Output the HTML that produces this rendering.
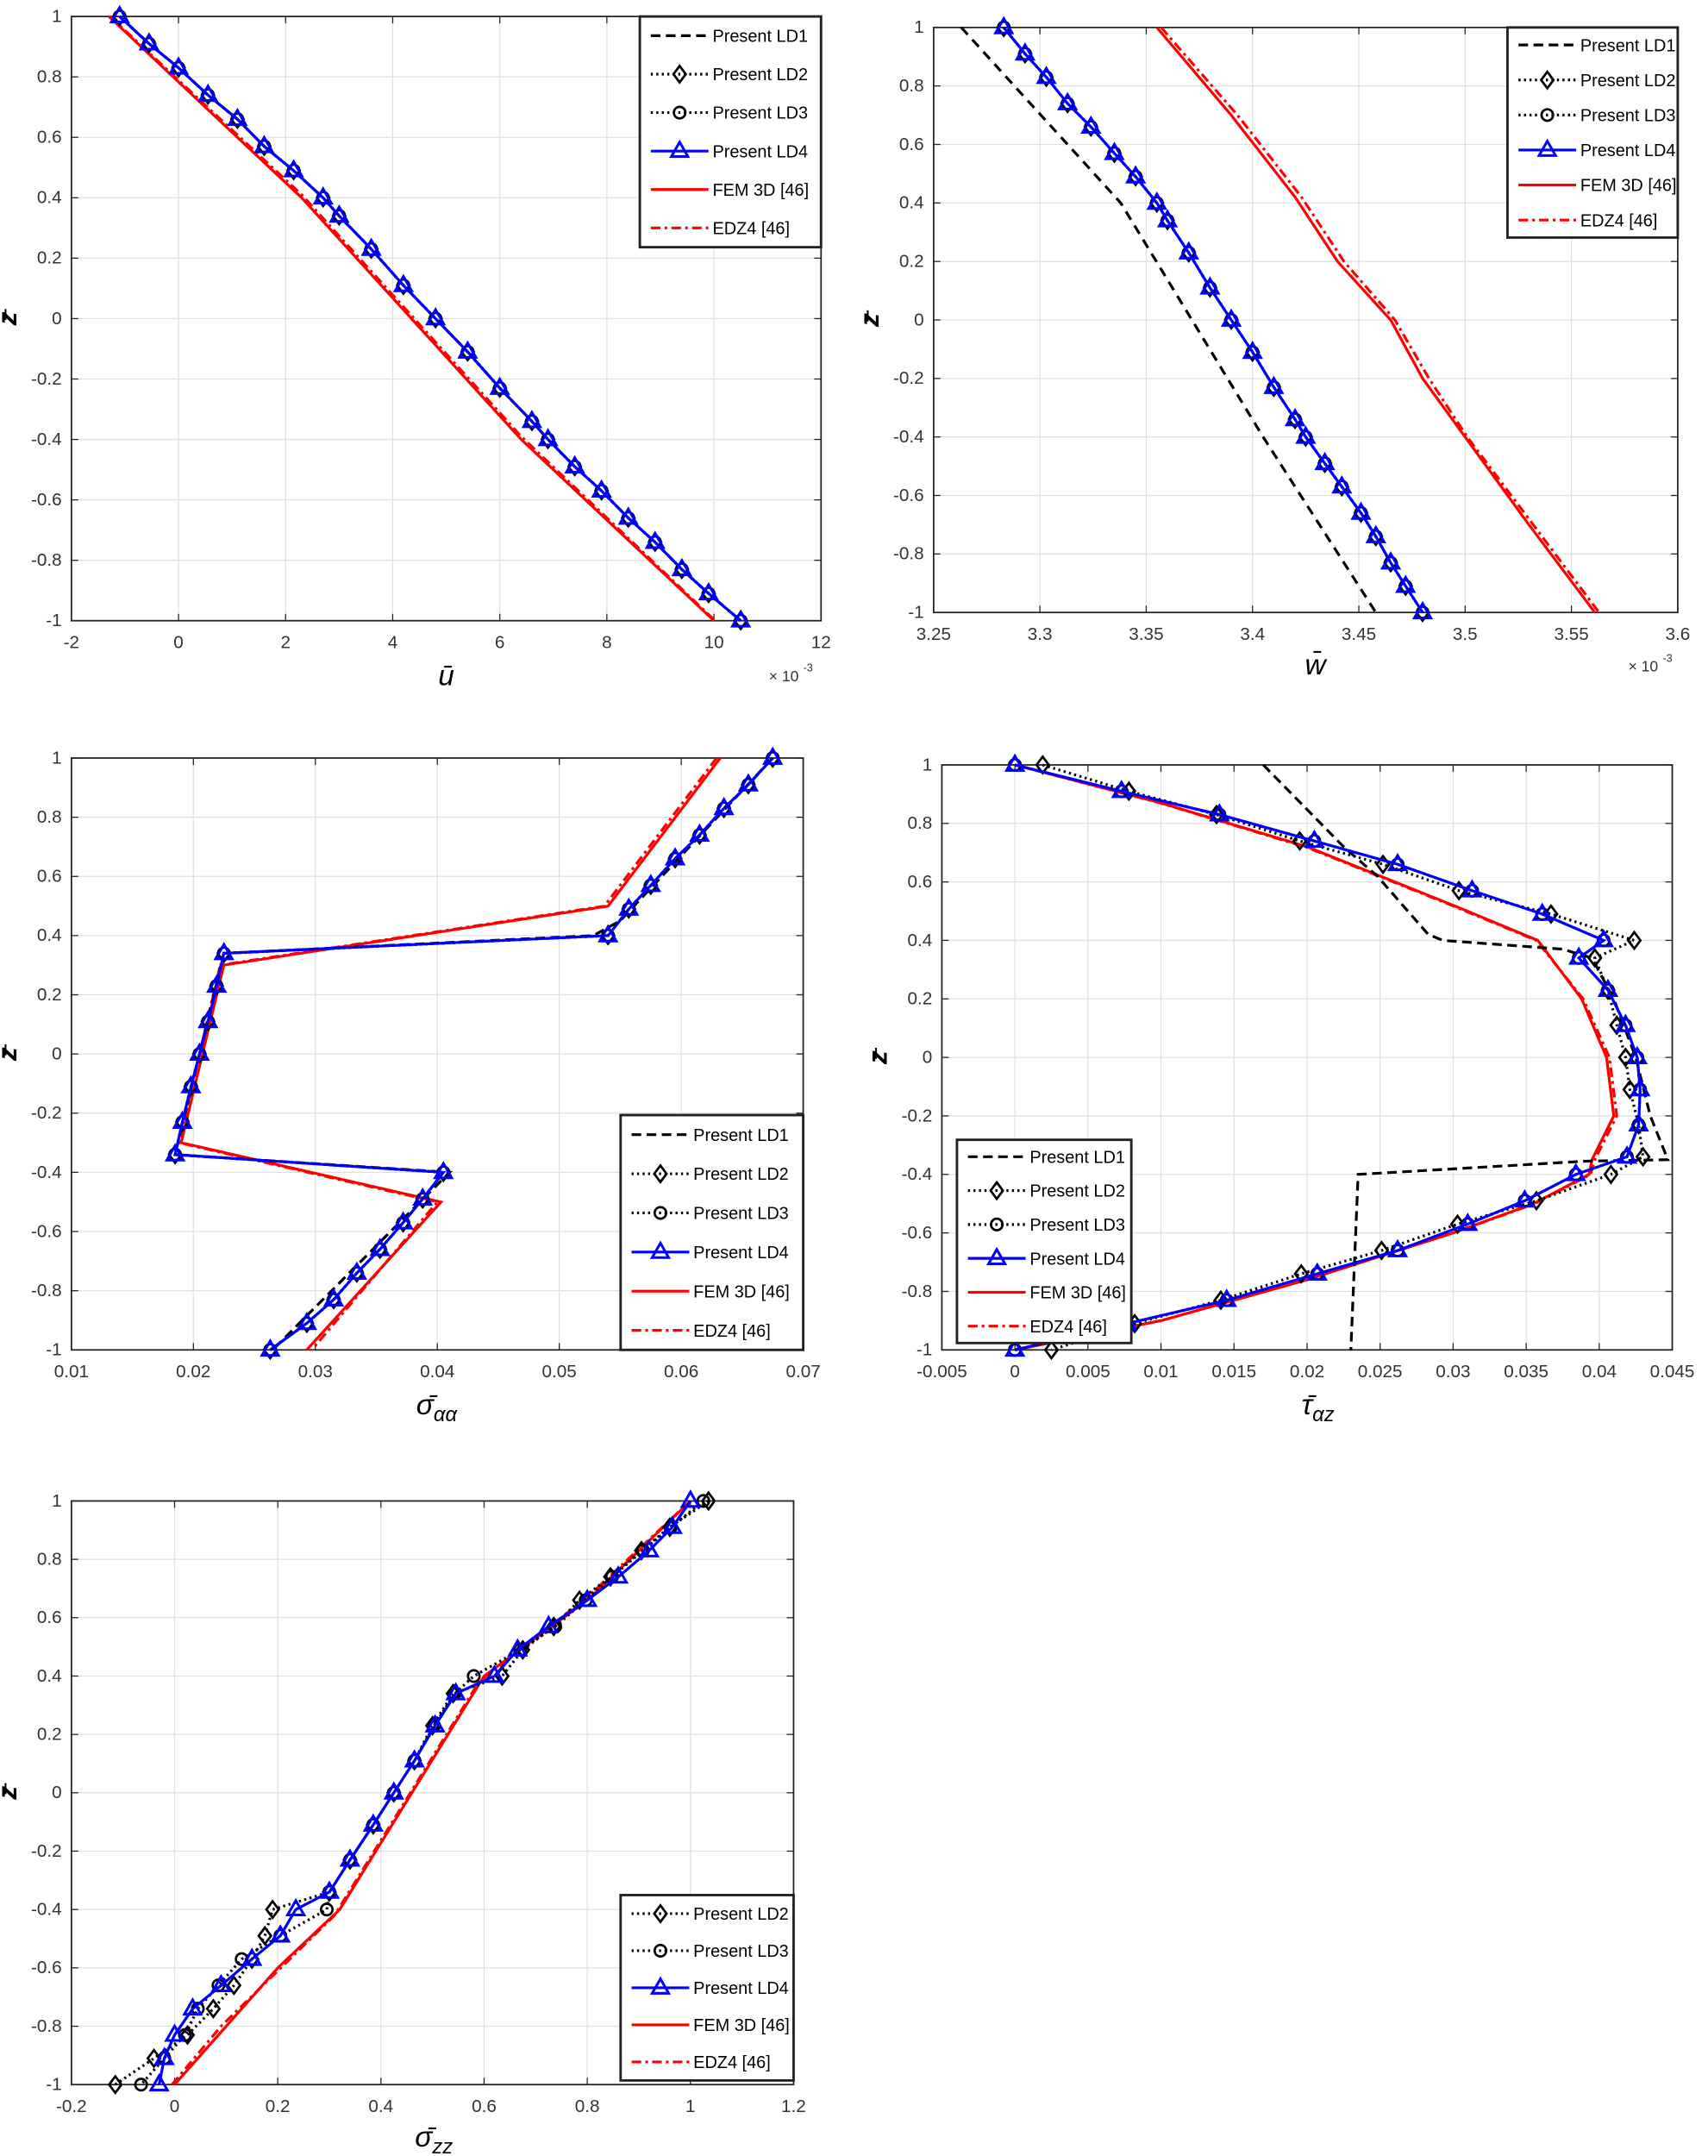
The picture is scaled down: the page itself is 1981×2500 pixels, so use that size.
<!DOCTYPE html>
<html><head><meta charset="utf-8"><style>
html,body{margin:0;padding:0;background:#fff;}
svg{display:block;}
text{font-family:"Liberation Sans",sans-serif;}
</style></head><body>
<svg id="s" xmlns="http://www.w3.org/2000/svg" width="1981" height="2500" viewBox="0 0 1244 1570"></svg>
<script>
const S=document.getElementById('s');let H='';
function add(s){H+=s;}
function plot(o){
 const {x0,x1,y0,y1,xmin,xmax,xt,xl,ymin,ymax}=o;
 const X=v=>x0+(v-xmin)/(xmax-xmin)*(x1-x0), Y=v=>y1-(v-ymin)/(ymax-ymin)*(y1-y0);
 o.X=X;o.Y=Y;
 xt.forEach((t,i)=>{const x=X(t);add(`<line x1="${x}" y1="${y0}" x2="${x}" y2="${y1}" stroke="#e0e0e0" stroke-width="0.8"/>`);
  add(`<line x1="${x}" y1="${y1}" x2="${x}" y2="${y1-5}" stroke="#222" stroke-width="0.8"/><line x1="${x}" y1="${y0}" x2="${x}" y2="${y0+5}" stroke="#222" stroke-width="0.8"/>`);
  add(`<text x="${x}" y="${y1+20}" font-size="13" fill="#333" text-anchor="middle">${xl[i]}</text>`);});
 for(let k=0;k<=10;k++){const v=-1+k*0.2, y=Y(v);let lab=Math.abs(v)<1e-9?'0':(Math.round(v*10)/10).toString();
  add(`<line x1="${x0}" y1="${y}" x2="${x1}" y2="${y}" stroke="#e0e0e0" stroke-width="0.8"/>`);
  add(`<line x1="${x0}" y1="${y}" x2="${x0+5}" y2="${y}" stroke="#222" stroke-width="0.8"/><line x1="${x1}" y1="${y}" x2="${x1-5}" y2="${y}" stroke="#222" stroke-width="0.8"/>`);
  add(`<text x="${x0-7}" y="${y+4}" font-size="13" fill="#333" text-anchor="end">${lab}</text>`);}
 add(`<rect x="${x0}" y="${y0}" width="${x1-x0}" height="${y1-y0}" fill="none" stroke="#222" stroke-width="1.1"/>`);
 add(`<text x="${x0-40}" y="${(y0+y1)/2}" font-size="20" font-style="italic" font-weight="bold" font-family="Liberation Serif,serif" text-anchor="middle" transform="rotate(-90 ${x0-40} ${(y0+y1)/2})">z</text>`);
 add(`<line x1="${x0-48}" y1="${(y0+y1)/2+1}" x2="${x0-48}" y2="${(y0+y1)/2-7}" stroke="#000" stroke-width="1.3"/>`);
 return o;
}
function series(o,pts,st){
 const p=pts.map(a=>`${o.X(a[0]).toFixed(1)},${o.Y(a[1]).toFixed(1)}`).join(' ');
 add(`<polyline points="${p}" fill="none" stroke="${st.c}" stroke-width="${st.w||2}" ${st.d?`stroke-dasharray="${st.d}"`:''}/>`);
 if(st.m) pts.forEach(a=>marker(o.X(a[0]),o.Y(a[1]),st.m));
}
function marker(x,y,m){
 if(m=='t')add(`<polygon points="${x},${y-6.5} ${x-6},${y+4} ${x+6},${y+4}" fill="none" stroke="#0000ff" stroke-width="1.9"/>`);
 if(m=='d')add(`<polygon points="${x},${y-6} ${x-4.5},${y} ${x},${y+6} ${x+4.5},${y}" fill="none" stroke="#000" stroke-width="1.7"/>`);
 if(m=='o')add(`<circle cx="${x}" cy="${y}" r="4.2" fill="none" stroke="#000" stroke-width="1.7"/>`);
}
function legend(x,y,w,h,items){
 add(`<rect x="${x}" y="${y}" width="${w}" height="${h}" fill="#fff" stroke="#222" stroke-width="1.8"/>`);
 const dy=(h)/items.length;
 items.forEach((it,i)=>{const yy=y+dy*(i+0.5);
  const st={LD1:{c:'#000',d:'7,4'},LD2:{c:'#000',d:'1.5,2.5',m:'d'},LD3:{c:'#000',d:'1.5,2.5',m:'o'},LD4:{c:'#0000ff',m:'t'},FEM:{c:'#ff0000'},EDZ:{c:'#ff0000',d:'7,3,2,3'}}[it];
  add(`<line x1="${x+8}" y1="${yy}" x2="${x+50}" y2="${yy}" stroke="${st.c}" stroke-width="2" ${st.d?`stroke-dasharray="${st.d}"`:''}/>`);
  if(st.m)marker(x+29,yy,st.m);
  const nm={LD1:'Present LD1',LD2:'Present LD2',LD3:'Present LD3',LD4:'Present LD4',FEM:'FEM 3D [46]',EDZ:'EDZ4 [46]'}[it];
  add(`<text x="${x+53}" y="${yy+4.5}" font-size="12.5" fill="#000">${nm}</text>`);});
}
function xlab(x,y,html){add(`<text x="${x}" y="${y}" font-size="21" font-style="italic" font-family="Liberation Serif,serif" text-anchor="middle">${html}</text>`);}
const Z=[1,.91,.83,.74,.66,.57,.49,.4,.34,.23,.11,0,-.11,-.23,-.34,-.4,-.49,-.57,-.66,-.74,-.83,-.91,-1];
const zip=(v)=>v.map((a,i)=>[a,Z[i]]);

let o=plot({x0:52,x1:598,y0:12,y1:452,xmin:-2,xmax:12,xt:[-2,0,2,4,6,8,10,12],xl:['-2','0','2','4','6','8','10','12'],ymin:-1,ymax:1});
let u=[-1.1,-.55,0,.55,1.1,1.6,2.15,2.7,3.0,3.6,4.2,4.8,5.4,6.0,6.6,6.9,7.4,7.9,8.4,8.9,9.4,9.9,10.5];
series(o,[[-1.3,1],[2.3,.4],[6.4,-.4],[10,-1]],{c:'#ff0000'});
series(o,[[-1.28,1],[2.3,.41],[6.4,-.39],[10.02,-1]],{c:'#ff0000',d:'7,3,2,3'});
series(o,zip(u),{c:'#000',d:'6,4'});
series(o,zip(u),{c:'#000',d:'1.5,2.5',m:'d'});
series(o,zip(u),{c:'#000',d:'1.5,2.5',m:'o'});
series(o,zip(u),{c:'#0000ff',m:'t'});
legend(466,12,132,168,['LD1','LD2','LD3','LD4','FEM','EDZ']);
xlab(325,499,'ū');
add(`<text x="560" y="496" font-size="11" fill="#333">× 10</text><text x="585" y="489" font-size="8" fill="#333">-3</text>`);

o=plot({x0:680,x1:1222,y0:20,y1:446,xmin:3.25,xmax:3.6,xt:[3.25,3.3,3.35,3.4,3.45,3.5,3.55,3.6],xl:['3.25','3.3','3.35','3.4','3.45','3.5','3.55','3.6'],ymin:-1,ymax:1});
let w=[3.283,3.293,3.303,3.313,3.324,3.335,3.345,3.355,3.36,3.37,3.38,3.39,3.40,3.41,3.42,3.425,3.434,3.442,3.451,3.458,3.465,3.472,3.48];
series(o,[[3.355,1],[3.39,.7],[3.42,.42],[3.44,.2],[3.465,0],[3.48,-.2],[3.5,-.4],[3.53,-.7],[3.561,-1]],{c:'#ff0000'});
series(o,[[3.357,1],[3.393,.7],[3.423,.42],[3.443,.2],[3.467,0],[3.483,-.2],[3.501,-.4],[3.532,-.7],[3.563,-1]],{c:'#ff0000',d:'7,3,2,3'});
series(o,[[3.263,1],[3.338,.4],[3.405,-.4],[3.458,-1]],{c:'#000',d:'7,5'});
series(o,zip(w),{c:'#000',d:'1.5,2.5',m:'d'});
series(o,zip(w),{c:'#000',d:'1.5,2.5',m:'o'});
series(o,zip(w),{c:'#0000ff',m:'t'});
legend(1098,20,124,153,['LD1','LD2','LD3','LD4','FEM','EDZ']);
xlab(958,491,'w̄');
add(`<text x="1186" y="489" font-size="11" fill="#333">× 10</text><text x="1211" y="482" font-size="8" fill="#333">-3</text>`);

o=plot({x0:52,x1:585,y0:552,y1:983,xmin:.01,xmax:.07,xt:[.01,.02,.03,.04,.05,.06,.07],xl:['0.01','0.02','0.03','0.04','0.05','0.06','0.07'],ymin:-1,ymax:1});
let s3=[.0675,.0655,.0635,.0615,.0595,.0575,.0557,.054,.0225,.0219,.0212,.0205,.0198,.0191,.0185,.0405,.0388,.0372,.0353,.0334,.0315,.0293,.0263];
series(o,[[.0632,1],[.054,.5],[.0225,.3],[.019,-.3],[.0403,-.5],[.0293,-1]],{c:'#ff0000'});
series(o,[[.0629,1],[.0537,.5],[.0222,.3],[.0188,-.3],[.04,-.5],[.0297,-1]],{c:'#ff0000',d:'7,3,2,3'});
series(o,[[.0675,1],[.055,.45],[.0528,.4],[.0225,.34],[.0185,-.34],[.041,-.4],[.0265,-1]],{c:'#000',d:'7,4'});
series(o,zip(s3),{c:'#000',d:'1.5,2.5',m:'d'});
series(o,zip(s3),{c:'#000',d:'1.5,2.5',m:'o'});
series(o,zip(s3),{c:'#0000ff',m:'t'});
legend(452,812,133,171,['LD1','LD2','LD3','LD4','FEM','EDZ']);
xlab(318,1030,'σ̄<tspan font-size="15" dy="5">αα</tspan>');

o=plot({x0:686,x1:1218,y0:557,y1:983,xmin:-.005,xmax:.045,xt:[-.005,0,.005,.01,.015,.02,.025,.03,.035,.04,.045],xl:['-0.005','0','0.005','0.01','0.015','0.02','0.025','0.03','0.035','0.04','0.045'],ymin:-1,ymax:1});
let t4=[0,.0073,.014,.0205,.0262,.0313,.0361,.0403,.0386,.0406,.0418,.0426,.0428,.0427,.0419,.0384,.0349,.031,.0262,.0207,.0145,.0077,0];
let t2=[.0019,.0078,.0138,.0195,.0252,.0304,.0367,.0424,.0397,.0406,.0412,.0418,.0421,.0427,.043,.0408,.0357,.0303,.0251,.0196,.0141,.0082,.0025];
series(o,[[0,1],[.01,.87],[.02,.72],[.03,.52],[.0358,.4],[.0388,.2],[.0405,0],[.041,-.2],[.0395,-.35],[.0393,-.4],[.0355,-.5],[.03,-.6],[.02,-.76],[.01,-.9],[0,-1]],{c:'#ff0000'});
series(o,[[0,1],[.01,.869],[.02,.718],[.03,.518],[.0357,.4],[.0389,.2],[.0407,0],[.0412,-.2],[.0397,-.35],[.0394,-.4],[.0356,-.5],[.03,-.6],[.02,-.76],[.01,-.9],[0,-1]],{c:'#ff0000',d:'7,3,2,3'});
series(o,[[.017,1],[.0225,.72],[.0248,.62],[.0283,.42],[.0293,.4],[.0375,.37],[.0395,.34],[.041,.2],[.0425,0],[.0435,-.2],[.0447,-.35],[.039,-.355],[.0235,-.4],[.023,-1]],{c:'#000',d:'7,4'});
series(o,zip(t2),{c:'#000',d:'1.5,2.5',m:'d'});
series(o,zip(t4),{c:'#000',d:'1.5,2.5',m:'o'});
series(o,zip(t4),{c:'#0000ff',m:'t'});
legend(697,830,127,148,['LD1','LD2','LD3','LD4','FEM','EDZ']);
xlab(960,1030,'τ̄<tspan font-size="15" dy="5">αz</tspan>');

o=plot({x0:52,x1:578,y0:1093,y1:1518,xmin:-.2,xmax:1.2,xt:[-.2,0,.2,.4,.6,.8,1,1.2],xl:['-0.2','0','0.2','0.4','0.6','0.8','1','1.2'],ymin:-1,ymax:1});
let z4=[1,.965,.92,.86,.8,.725,.665,.62,.545,.505,.465,.425,.385,.34,.3,.235,.205,.15,.09,.035,0,-.02,-.03];
let z2=[1.035,.96,.905,.845,.785,.735,.675,.635,.54,.5,.465,.425,.385,.34,.3,.19,.175,.15,.115,.075,.025,-.04,-.115];
let z3=[1.025,.962,.908,.848,.797,.738,.67,.58,.543,.503,.465,.425,.385,.34,.3,.295,.205,.13,.085,.045,.02,-.02,-.065];
series(o,[[0,-1],[.1,-.8],[.2,-.6],[.32,-.4],[.6,.4],[.8,.66],[1,1]],{c:'#ff0000'});
series(o,[[-.005,-1],[.09,-.8],[.31,-.42],[.59,.38],[.8,.67],[1,1]],{c:'#ff0000',d:'7,3,2,3'});
series(o,zip(z2),{c:'#000',d:'1.5,2.5',m:'d'});
series(o,zip(z3),{c:'#000',d:'1.5,2.5',m:'o'});
series(o,zip(z4),{c:'#0000ff',m:'t'});
legend(452,1380,126,135,['LD2','LD3','LD4','FEM','EDZ']);
xlab(316,1563,'σ̄<tspan font-size="15" dy="5">zz</tspan>');
S.innerHTML=H;
</script>
</body></html>
